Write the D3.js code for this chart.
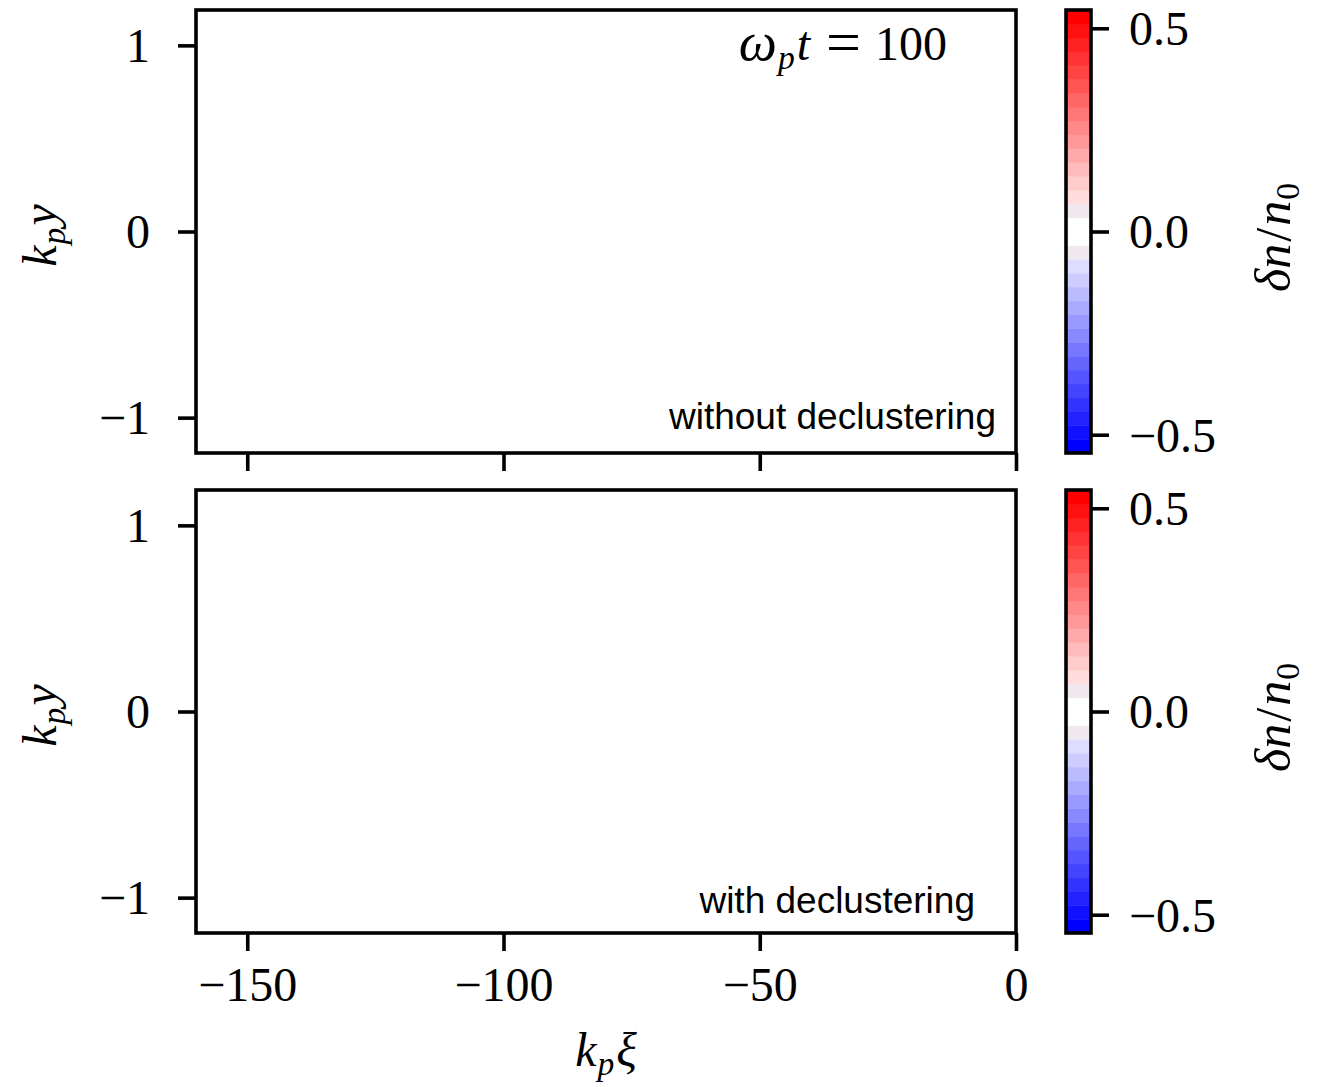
<!DOCTYPE html>
<html>
<head>
<meta charset="utf-8">
<script src="https://cdn.jsdelivr.net/npm/d3@7"></script>
<style>
  html, body { margin: 0; padding: 0; background: #ffffff; }
  svg { display: block; }
</style>
</head>
<body>
<script>
// ---------- data ----------
const xDomain = [-160, 0];
const yDomain = [-1.19, 1.19];
const cbDomain = [-0.545, 0.545];
const xTicks = [-150, -100, -50, 0];
const yTicks = [-1, 0, 1];
const cbTicks = [-0.5, 0.0, 0.5];
const panelLabels = ["without declustering", "with declustering"];
const timeValue = 100;
// density perturbation field: essentially zero everywhere in both panels
const fieldValues = [0.0, 0.0];
const nBands = 32; // contour levels of the colorbar

// ---------- layout ----------
const W = 1327, H = 1087;
const left = 196, right = 1016;
const panels = [{ top: 10, bottom: 453 }, { top: 490, bottom: 933 }];
const cbX0 = 1066, cbX1 = 1091;
const serif = "'Liberation Serif', 'DejaVu Serif', serif";
const sans = "'Liberation Sans', Arial, sans-serif";
const FS = 48;
const LW = 3.6;

const svg = d3.select("body").append("svg").attr("width", W).attr("height", H);
svg.append("rect").attr("width", W).attr("height", H).attr("fill", "#ffffff");

// bwr colormap
const bwr = d3.scaleLinear().domain([-1, 0, 1]).range(["#0000ff", "#ffffff", "#ff0000"]).clamp(true);
const half = nBands / 2;
function bandColor(k) {
  const i = k < half ? (half - 1 - k) : (k - half);
  const sign = k < half ? -1 : 1;
  if (i === 1) return "#efe9ef";
  return bwr(sign * i / (half - 1));
}
const levels = d3.range(nBands + 1).map(i => cbDomain[0] + i * (cbDomain[1] - cbDomain[0]) / nBands);
function valueColor(v) {
  let k = d3.bisectRight(levels, v) - 1;
  k = Math.max(0, Math.min(nBands - 1, k));
  return v === 0 ? bwr(0) : bandColor(k);
}

const x = d3.scaleLinear().domain(xDomain).range([left, right]);

function mathSub(sel, base, sub, after, subRoman) {
  sel.append("tspan").attr("font-style", "italic").text(base);
  const s = sel.append("tspan").attr("font-size", FS * 0.7).attr("dy", 9).attr("dx", 1).text(sub);
  if (!subRoman) s.attr("font-style", "italic");
  if (after) sel.append("tspan").attr("font-style", "italic").attr("dy", -9).attr("dx", 2).text(after);
}

panels.forEach((p, pi) => {
  const y = d3.scaleLinear().domain(yDomain).range([p.bottom, p.top]);
  const g = svg.append("g");

  // field
  g.append("rect")
    .attr("x", x(xDomain[0])).attr("y", y(yDomain[1]))
    .attr("width", x(xDomain[1]) - x(xDomain[0]))
    .attr("height", y(yDomain[0]) - y(yDomain[1]))
    .attr("fill", valueColor(fieldValues[pi]));

  // y axis
  const ya = g.append("g").attr("transform", `translate(${left},0)`)
    .call(d3.axisLeft(y).tickValues(yTicks).tickSize(18).tickPadding(28).tickFormat(d3.format("d")));
  ya.select(".domain").remove();
  ya.selectAll(".tick line").attr("stroke", "#000").attr("stroke-width", LW);
  ya.selectAll(".tick text").attr("font-family", serif).attr("font-size", FS).attr("fill", "#000").attr("dy", "0.34em");

  // x axis
  const xa = g.append("g").attr("transform", `translate(0,${p.bottom})`)
    .call(d3.axisBottom(x).tickValues(xTicks).tickSize(18).tickPadding(16).tickFormat(d3.format("d")));
  xa.select(".domain").remove();
  xa.selectAll(".tick line").attr("stroke", "#000").attr("stroke-width", LW);
  xa.selectAll(".tick text").attr("font-family", serif).attr("font-size", FS).attr("fill", "#000");
  if (pi === 0) xa.selectAll(".tick text").remove();

  // frame
  g.append("rect")
    .attr("x", left).attr("y", p.top)
    .attr("width", right - left).attr("height", p.bottom - p.top)
    .attr("fill", "none").attr("stroke", "#000").attr("stroke-width", LW);

  // y label k_p y
  const yl = g.append("text")
    .attr("transform", `translate(56,${(p.top + p.bottom) / 2 + 4}) rotate(-90)`)
    .attr("text-anchor", "middle").attr("font-family", serif).attr("font-size", FS).attr("fill", "#000");
  mathSub(yl, "k", "p", "y");

  // panel label
  g.append("text")
    .attr("x", pi === 0 ? 996 : 975).attr("y", pi === 0 ? 429 : 913)
    .attr("text-anchor", "end").attr("font-family", sans).attr("font-size", 37).attr("fill", "#000")
    .text(panelLabels[pi]);

  // colorbar
  const cy = d3.scaleLinear().domain(cbDomain).range([p.bottom, p.top]);
  const cb = svg.append("g");
  cb.selectAll("rect.band").data(d3.range(nBands)).join("rect")
    .attr("class", "band")
    .attr("x", cbX0).attr("width", cbX1 - cbX0)
    .attr("y", k => cy(levels[k + 1]))
    .attr("height", k => cy(levels[k]) - cy(levels[k + 1]) + 0.5)
    .attr("fill", k => bandColor(k));
  cb.append("rect")
    .attr("x", cbX0).attr("y", p.top).attr("width", cbX1 - cbX0).attr("height", p.bottom - p.top)
    .attr("fill", "none").attr("stroke", "#000").attr("stroke-width", LW);
  const ca = cb.append("g").attr("transform", `translate(${cbX1},0)`)
    .call(d3.axisRight(cy).tickValues(cbTicks).tickSize(18).tickPadding(20).tickFormat(d3.format(".1f")));
  ca.select(".domain").remove();
  ca.selectAll(".tick line").attr("stroke", "#000").attr("stroke-width", LW);
  ca.selectAll(".tick text").attr("font-family", serif).attr("font-size", FS).attr("fill", "#000").attr("dy", "0.34em");

  // colorbar label δn/n_0
  const cl = cb.append("text")
    .attr("transform", `translate(1290,${(p.top + p.bottom) / 2 + 6}) rotate(-90)`)
    .attr("text-anchor", "middle").attr("font-family", serif).attr("font-size", FS + 2).attr("fill", "#000");
  cl.append("tspan").attr("font-style", "italic").text("δn");
  cl.append("tspan").attr("dx", 2).text("/");
  cl.append("tspan").attr("font-style", "italic").attr("dx", 2).text("n");
  cl.append("tspan").attr("font-size", FS * 0.7).attr("dy", 9).attr("dx", 1).text("0");
});

// time label ω_p t = 100
const tl = svg.append("text")
  .attr("x", 947).attr("y", 60).attr("text-anchor", "end")
  .attr("font-family", serif).attr("font-size", FS).attr("fill", "#000");
tl.append("tspan").attr("font-style", "italic").attr("font-size", FS + 6).text("ω");
tl.append("tspan").attr("font-style", "italic").attr("font-size", FS * 0.7).attr("dy", 9).attr("dx", 1).text("p");
tl.append("tspan").attr("font-style", "italic").attr("dy", -9).attr("dx", 2).text("t");
tl.append("tspan").attr("dx", 16).attr("font-size", FS + 14).attr("dy", 3).text("=");
tl.append("tspan").attr("dx", 14).attr("dy", -3).text(String(timeValue));

// x label k_p ξ
const xl = svg.append("text")
  .attr("x", (left + right) / 2).attr("y", 1066).attr("text-anchor", "middle")
  .attr("font-family", serif).attr("font-size", FS).attr("fill", "#000");
mathSub(xl, "k", "p", "ξ");
</script>
</body>
</html>
